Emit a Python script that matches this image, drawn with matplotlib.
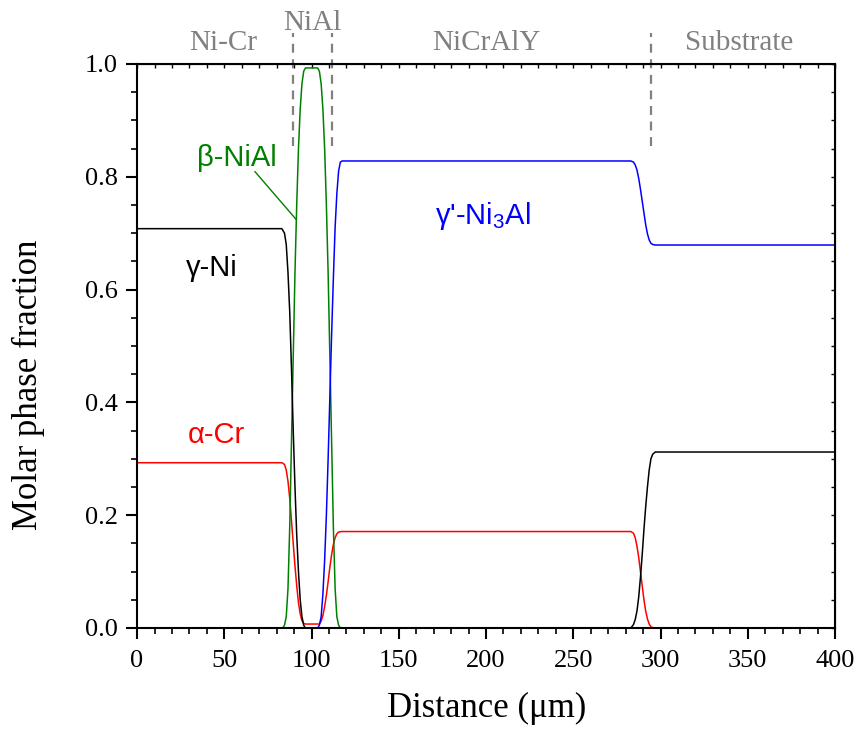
import matplotlib
matplotlib.use("Agg")
import matplotlib.pyplot as plt

plt.rcParams["mathtext.fontset"] = "custom"
plt.rcParams["mathtext.rm"] = "Liberation Sans"
plt.rcParams["mathtext.it"] = "Liberation Sans"

SERIF = "Liberation Serif"
SANS = "Liberation Sans"

# gamma-Ni (black)
ni_x = [0, 83, 84.5, 85.5, 86.5, 87.5, 88.5, 89.5, 90.5, 91.5, 92.5, 93.5, 94.5, 95.5, 96.5,
        283, 284.5, 285.5, 286.5, 287.5, 288.5, 289.5, 290.5, 291.5, 292.5, 293.5, 294.5, 295.5, 297, 400]
ni_y = [0.708, 0.708, 0.70, 0.68, 0.63, 0.56, 0.46, 0.35, 0.25, 0.165, 0.10, 0.05, 0.02, 0.005, 0.0,
        0.0, 0.006, 0.015, 0.03, 0.055, 0.09, 0.13, 0.175, 0.215, 0.25, 0.28, 0.30, 0.308, 0.312, 0.312]

# alpha-Cr (red)
cr_x = [0, 83, 84.5, 85.5, 86.5, 87.5, 88.5, 89.5, 90.5, 91.5, 92.5, 93.5, 94.5, 95.5, 96.5,
        104.5, 105.5, 106.5, 107.5, 108.5, 109.5, 110.5, 111.5, 112.5, 113.5, 114.5, 115.5, 117,
        283, 284.5, 285.5, 286.5, 287.5, 288.5, 289.5, 290.5, 291.5, 292.5, 293.5, 294.5, 296, 400]
cr_y = [0.293, 0.293, 0.29, 0.28, 0.26, 0.23, 0.19, 0.15, 0.11, 0.075, 0.045, 0.025, 0.013, 0.008, 0.007,
        0.007, 0.012, 0.022, 0.038, 0.058, 0.082, 0.108, 0.13, 0.148, 0.16, 0.167, 0.17, 0.171,
        0.171, 0.168, 0.16, 0.145, 0.125, 0.10, 0.075, 0.05, 0.03, 0.016, 0.007, 0.002, 0.0, 0.0]

# gamma'-Ni3Al (blue)
gp_x = [0, 103.5, 104.5, 105.5, 106.5, 107.5, 108.5, 109.5, 110.5, 111.5, 112.5, 113.5, 114.5, 115.5, 116.5, 117.5,
        283, 284.5, 285.5, 286.5, 287.5, 288.5, 289.5, 290.5, 291.5, 292.5, 293.5, 294.5, 295.5, 297, 400]
gp_y = [0.0, 0.0, 0.005, 0.02, 0.06, 0.12, 0.2, 0.3, 0.41, 0.52, 0.62, 0.71, 0.77, 0.81, 0.826, 0.828,
        0.828, 0.826, 0.821, 0.812, 0.797, 0.778, 0.757, 0.736, 0.715, 0.699, 0.688, 0.682, 0.680, 0.679, 0.679]

# beta-NiAl (green)
b_x = [0, 83.5, 84.5, 85.5, 86.5, 87.5, 88.5, 89.5, 90.5, 91.5, 92.5, 93.5, 94.5, 95.5, 96.5,
       103.5, 104.5, 105.5, 106.5, 107.5, 108.5, 109.5, 110.5, 111.5, 112.5, 113.5, 114.5, 115.5, 116.5, 400]
b_y = [0.0, 0.0, 0.005, 0.02, 0.07, 0.18, 0.33, 0.48, 0.63, 0.75, 0.85, 0.92, 0.965, 0.987, 0.993,
       0.993, 0.987, 0.965, 0.92, 0.85, 0.75, 0.63, 0.48, 0.33, 0.18, 0.07, 0.02, 0.005, 0.0, 0.0]

regions = ["Ni-Cr", "NiAl", "NiCrAlY", "Substrate"]
region_x = [49.3, 100.7, 200, 345]
region_y = [1.037, 1.073, 1.037, 1.037]
boundaries = [89.4, 111.7, 294.6]

fig = plt.figure(figsize=(8.62, 7.32), dpi=100)
ax = fig.add_axes([0.159, 0.1421, 0.8097, 0.7705])

ax.plot(cr_x, cr_y, color="red", lw=1.1)
ax.plot(b_x, b_y, color="green", lw=1.1)
ax.plot(ni_x, ni_y, color="black", lw=1.1)
ax.plot(gp_x, gp_y, color="blue", lw=1.1)

for bx in boundaries:
    ax.plot([bx, bx], [0.855, 1.055], color="gray", lw=1.6, ls=(0, (4, 3)), clip_on=False)

for name, rx, ry in zip(regions, region_x, region_y):
    ax.text(rx, ry, name, ha="center", va="center", fontsize=21, color="gray", family=SERIF)

ax.text(57.3, 0.833, "β-NiAl", color="green", fontsize=21, family=SANS, ha="center", va="center")
ax.plot([67.6, 91.0], [0.809, 0.725], color="green", lw=1)
ax.text(43, 0.638, "γ-Ni", color="black", fontsize=21, family=SANS, ha="center", va="center")
ax.text(198.3, 0.730, "γ'-Ni$_3$Al", color="blue", fontsize=21, family=SANS, ha="center", va="center")
ax.text(45.3, 0.342, "α-Cr", color="red", fontsize=21, family=SANS, ha="center", va="center")

ax.set_xlim(0, 400)
ax.set_ylim(0, 1.0)
ax.set_xticks(range(0, 401, 50))
ax.set_xticks(range(0, 401, 10), minor=True)
ax.set_yticks([0, 0.2, 0.4, 0.6, 0.8, 1.0])
ax.set_yticks([i * 0.05 for i in range(21)], minor=True)
ax.set_yticklabels(["0.0", "0.2", "0.4", "0.6", "0.8", "1.0"])
ax.tick_params(which="major", direction="out", length=8, width=1.5, labelsize=19, pad=6)
ax.tick_params(axis="x", which="major", pad=8)
ax.tick_params(which="minor", direction="out", length=4, width=1.2)
for lbl in ax.get_xticklabels() + ax.get_yticklabels():
    lbl.set_family(SERIF)
for s in ax.spines.values():
    s.set_linewidth(1.5)

top = ax.secondary_xaxis("top")
top.set_xticks(range(0, 401, 10))
top.tick_params(direction="in", length=3, width=1, labeltop=False)
right = ax.secondary_yaxis("right")
right.set_yticks([i * 0.05 for i in range(21)])
right.tick_params(direction="in", length=3, width=1, labelright=False)

fig.text(487 / 862, 1 - 708 / 732, "Distance (μm)", fontsize=25, family=SERIF, ha="center", va="center")
fig.text(28 / 862, 1 - 385 / 732, "Molar phase fraction", fontsize=25, family=SERIF,
         ha="center", va="center", rotation=90)

fig.savefig("out.png", dpi=100)
